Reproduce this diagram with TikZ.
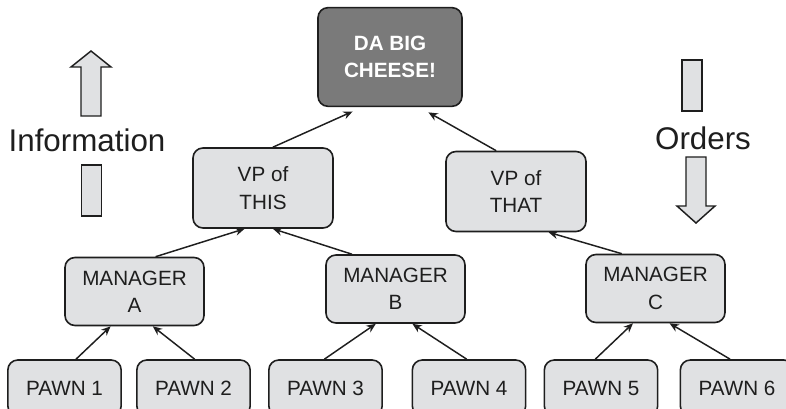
\documentclass[tikz,border=0pt]{standalone}
\usepackage{fontspec}
\setmainfont{Liberation Sans}
\usetikzlibrary{arrows.meta,calc}
\definecolor{boxfill}{HTML}{E0E1E3}
\definecolor{bossfill}{HTML}{7A7A7A}
\definecolor{ink}{HTML}{1E1E1E}
\tikzset{
  box/.style={draw=ink, line width=1.2pt, rounded corners=7.5pt, fill=boxfill,
    align=center, text=ink, inner sep=0pt,
    font=\fontsize{15.5}{20.5}\selectfont},
  boss/.style={box, fill=bossfill, text=white,
    font=\fontsize{15.5}{20.5}\selectfont\bfseries},
  midbox/.style={box, minimum width=105pt, minimum height=60pt},
  mgrbox/.style={box, minimum width=104.25pt, minimum height=51pt},
  pawnbox/.style={box, minimum width=85pt, minimum height=42pt},
  arr/.style={draw=ink, line width=1.1pt, -{Stealth[length=7pt,width=6pt]}},
  blockarrow/.style={draw=ink, line width=1.1pt, fill=boxfill, line join=miter},
  biglabel/.style={text=ink, inner sep=0pt, font=\fontsize{23.5}{28}\selectfont}
}
\begin{document}
\begin{tikzpicture}[x=0.75pt, y=-0.75pt]
\begin{scope}
\clip (0,0) rectangle (786,409);
\fill[white] (0,0) rectangle (786,409);

% nodes
\node[boss, minimum width=108pt, minimum height=74pt] (top) at (390,57) {DA BIG\\CHEESE!};
\node[midbox] (vthis) at (263,188) {VP of\\THIS};
\node[midbox] (vthat) at (516,191.5) {VP of\\THAT};
\node[mgrbox] (ma) at (134.5,291.5) {MANAGER\\A};
\node[mgrbox] (mb) at (395.5,289) {MANAGER\\B};
\node[mgrbox] (mc) at (655.5,288.5) {MANAGER\\C};
\node[pawnbox] (p1) at (64.5,388) {PAWN 1};
\node[pawnbox] (p2) at (193.5,388) {PAWN 2};
\node[pawnbox] (p3) at (325.5,388) {PAWN 3};
\node[pawnbox] (p4) at (469,388) {PAWN 4};
\node[pawnbox] (p5) at (601,388) {PAWN 5};
\node[pawnbox] (p6) at (737,388) {PAWN 6};

% connectors
\draw[arr] ($(p1.north west)!0.60!(p1.north east)$) -- ($(ma.south west)!0.33!(ma.south east)$);
\draw[arr] ($(p2.north west)!0.51!(p2.north east)$) -- ($(ma.south west)!0.63!(ma.south east)$);
\draw[arr] ($(p3.north west)!0.49!(p3.north east)$) -- ($(mb.south west)!0.36!(mb.south east)$);
\draw[arr] ($(p4.north west)!0.48!(p4.north east)$) -- ($(mb.south west)!0.62!(mb.south east)$);
\draw[arr] ($(p5.north west)!0.45!(p5.north east)$) -- ($(mc.south west)!0.34!(mc.south east)$);
\draw[arr] ($(p6.north west)!0.44!(p6.north east)$) -- ($(mc.south west)!0.60!(mc.south east)$);
\draw[arr] ($(ma.north west)!0.65!(ma.north east)$) -- ($(vthis.south west)!0.37!(vthis.south east)$);
\draw[arr] ($(mb.north west)!0.19!(mb.north east)$) -- ($(vthis.south west)!0.57!(vthis.south east)$);
\draw[arr] ($(mc.north west)!0.26!(mc.north east)$) -- ($(vthat.south west)!0.73!(vthat.south east)$);
\draw[arr, shorten >=8pt] ($(vthis.north west)!0.57!(vthis.north east)$) -- ($(top.south west)!0.31!(top.south east)$);
\draw[arr, shorten >=8pt] ($(vthat.north west)!0.36!(vthat.north east)$) -- ($(top.south west)!0.70!(top.south east)$);

% side labels
\node[biglabel] (info) at (87,140) {Information};
\node[biglabel] (orders) at (703,138) {Orders};

% block arrows
\draw[blockarrow] (81,116) -- (81,67) -- (71,67) -- (91,51) -- (111,67) -- (101,67) -- (101,116) -- cycle;
\draw[blockarrow] (81.5,165) rectangle (101.5,216);
\draw[blockarrow] (682,60) rectangle (702,111);
\draw[blockarrow] (686,157) -- (686,206) -- (677,206) -- (696,223) -- (715,206) -- (706,206) -- (706,157) -- cycle;
\end{scope}
\useasboundingbox (0,0) rectangle (786,409);
\end{tikzpicture}
\end{document}
